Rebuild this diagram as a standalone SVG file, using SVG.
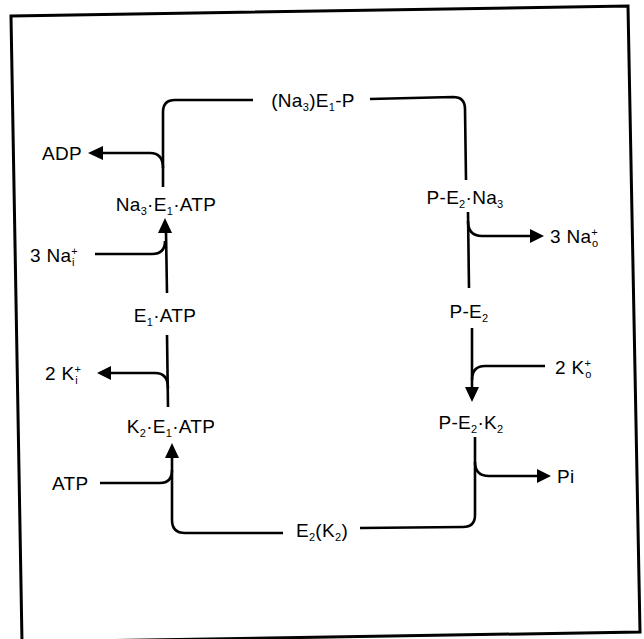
<svg xmlns="http://www.w3.org/2000/svg" width="644" height="639" viewBox="0 0 644 639">
<style>
  .t { font-family: "Liberation Sans", Arial, sans-serif; font-size: 19px; fill: #000; letter-spacing: 0.3px; }
  .s { font-size: 11px; }
  .c { fill: none; stroke: #000; stroke-width: 2.6; stroke-linecap: butt; stroke-linejoin: round; }
  .h { fill: #000; stroke: none; }
  .frame { fill: none; stroke: #000; stroke-width: 3; }
</style>
<rect width="644" height="639" fill="#fff"/>
<polygon class="frame" points="11,16 628,6 640,632 22,642"/>

<g id="connectors">
  <path class="c" d="M163,187 L163,112 Q163,100 175,100 L253,100"/>
  <path class="c" d="M163,168 Q163,153 150,153 L100,153"/>
  <polygon class="h" points="88,153 103,146 103,160"/>
  <path class="c" d="M370,99 L453,97 Q465,97 465,109 L466,180"/>
  <path class="c" d="M468,212 L469,288"/>
  <path class="c" d="M468,221 Q468,236 482,236 L531,236"/>
  <polygon class="h" points="544,236 530,229 530,243"/>
  <path class="c" d="M472,328 L472,388"/>
  <path class="c" d="M545,366 L485,366 Q472,366 472,380"/>
  <polygon class="h" points="472,402 465,387 479,387"/>
  <path class="c" d="M475,437 L475,515 Q475,527 463,527 L360,528"/>
  <path class="c" d="M475,462 Q475,476 489,476 L538,476"/>
  <polygon class="h" points="551,476 537,469 537,483"/>
  <path class="c" d="M283,533 L185,533 Q172,533 172,520 L172,456"/>
  <polygon class="h" points="172,443 165,458 179,458"/>
  <path class="c" d="M100,483 L160,483 Q172,483 172,470"/>
  <path class="c" d="M168,407 L167,335"/>
  <path class="c" d="M168,388 Q168,373 155,373 L109,373"/>
  <polygon class="h" points="97,373 111,366 111,380"/>
  <path class="c" d="M167,293 L166,232"/>
  <polygon class="h" points="165,218 158,233 172,233"/>
  <path class="c" d="M95,254 L152,254 Q165,254 165,241"/>
</g>

<g id="n_Na3E1P"><text class="t" x="313" y="107" text-anchor="middle">(Na<tspan class="s" dy="4">3</tspan><tspan dy="-4">)E</tspan><tspan class="s" dy="4">1</tspan><tspan dy="-4">-P</tspan></text></g>
<g id="n_ADP"><text class="t" x="42" y="160">ADP</text></g>
<g id="n_Na3E1ATP"><text class="t" x="166" y="211" text-anchor="middle">Na<tspan class="s" dy="4">3</tspan><tspan dy="-4">·E</tspan><tspan class="s" dy="4">1</tspan><tspan dy="-4">·ATP</tspan></text></g>
<g id="n_3Nai"><text class="t" x="30" y="262">3 Na<tspan class="s" dy="-7">+</tspan><tspan class="s" dx="-6" dy="11">i</tspan></text></g>
<g id="n_E1ATP"><text class="t" x="165" y="322" text-anchor="middle">E<tspan class="s" dy="4">1</tspan><tspan dy="-4">·ATP</tspan></text></g>
<g id="n_2Ki"><text class="t" x="45" y="380">2 K<tspan class="s" dy="-7">+</tspan><tspan class="s" dx="-6" dy="11">i</tspan></text></g>
<g id="n_K2E1ATP"><text class="t" x="171" y="433" text-anchor="middle">K<tspan class="s" dy="4">2</tspan><tspan dy="-4">·E</tspan><tspan class="s" dy="4">1</tspan><tspan dy="-4">·ATP</tspan></text></g>
<g id="n_ATP"><text class="t" x="52" y="490">ATP</text></g>
<g id="n_E2K2"><text class="t" x="322" y="537" text-anchor="middle">E<tspan class="s" dy="4">2</tspan><tspan dy="-4">(K</tspan><tspan class="s" dy="4">2</tspan><tspan dy="-4">)</tspan></text></g>
<g id="n_PE2Na3"><text class="t" x="465" y="204" text-anchor="middle">P-E<tspan class="s" dy="4">2</tspan><tspan dy="-4">·Na</tspan><tspan class="s" dy="4">3</tspan></text></g>
<g id="n_3Nao"><text class="t" x="550" y="243">3 Na<tspan class="s" dy="-7">+</tspan><tspan class="s" dx="-6" dy="11">o</tspan></text></g>
<g id="n_PE2"><text class="t" x="469" y="318" text-anchor="middle">P-E<tspan class="s" dy="4">2</tspan></text></g>
<g id="n_2Ko"><text class="t" x="555" y="374">2 K<tspan class="s" dy="-7">+</tspan><tspan class="s" dx="-6" dy="11">o</tspan></text></g>
<g id="n_PE2K2"><text class="t" x="471" y="429" text-anchor="middle">P-E<tspan class="s" dy="4">2</tspan><tspan dy="-4">·K</tspan><tspan class="s" dy="4">2</tspan></text></g>
<g id="n_Pi"><text class="t" x="557" y="483">Pi</text></g>
</svg>
